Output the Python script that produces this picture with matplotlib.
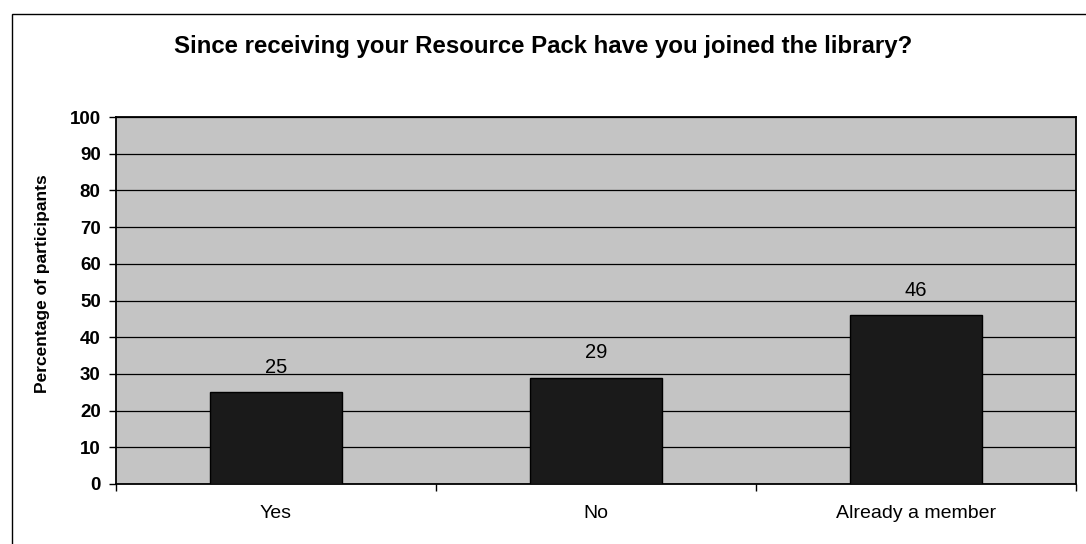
import matplotlib
matplotlib.use('Agg')
import matplotlib.pyplot as plt
from matplotlib.patches import Rectangle
import numpy as np

plt.rcParams['font.family'] = ['Liberation Sans', 'DejaVu Sans']

# ── 数据 ──────────────────────────────────────────
categories = ["Yes", "No", "Already a member"]
values = [25, 29, 46]
y_ticks = [0, 10, 20, 30, 40, 50, 60, 70, 80, 90, 100]

title = "Since receiving your Resource Pack have you joined the library?"
ylabel = "Percentage of participants"

W, H = 1086, 544
fig = plt.figure(figsize=(W / 100, H / 100), dpi=100)

# 外框（右侧/底部超出画面）
fig.patches.append(Rectangle((12 / W, -0.1), 1.2, 1 - 14 / H + 0.1,
                             transform=fig.transFigure, fill=False,
                             edgecolor='black', linewidth=1.0))

ax = fig.add_axes([116 / W, 1 - 484 / H, (1076 - 116) / W, (484 - 117) / H])
ax.set_facecolor('#c4c4c4')

x = np.arange(len(categories))
ax.bar(x, values, width=0.41, color='#1a1a1a', edgecolor='black',
       linewidth=1.0, zorder=3)

for xi, v in zip(x, values):
    ax.annotate(str(v), (xi, v), xytext=(0, 11), textcoords='offset points',
                ha='center', va='bottom', fontsize=14.5, color='black')

ax.set_xlim(-0.5, len(categories) - 0.5)
ax.set_ylim(0, 100)
ax.set_yticks(y_ticks)
ax.set_yticklabels([str(t) for t in y_ticks], fontsize=13.5, fontweight='bold')
ax.yaxis.grid(True, color='black', linewidth=0.9, zorder=1)
ax.set_axisbelow(True)

# 分类边界刻度 + 居中标签
ax.set_xticks(np.arange(-0.5, len(categories), 1.0))
ax.set_xticklabels([])
ax.set_xticks(x, minor=True)
ax.set_xticklabels(categories, minor=True, fontsize=14)
ax.tick_params(axis='x', which='minor', length=0, pad=15)
ax.tick_params(axis='x', which='major', length=5, width=1.0, direction='out')
ax.tick_params(axis='y', length=5, width=1.0, direction='out', pad=6)

for s in ax.spines.values():
    s.set_linewidth(1.3)
    s.set_color('black')

ax.set_ylabel(ylabel, fontsize=12.5, fontweight='bold')
ax.yaxis.set_label_coords(-(116 - 50) / (1076 - 116), (484 - 284) / (484 - 117))

fig.text(0.5, 1 - 47 / H, title, ha='center', va='center',
         fontsize=17.3, fontweight='bold')

fig.savefig('out.png', dpi=100)
